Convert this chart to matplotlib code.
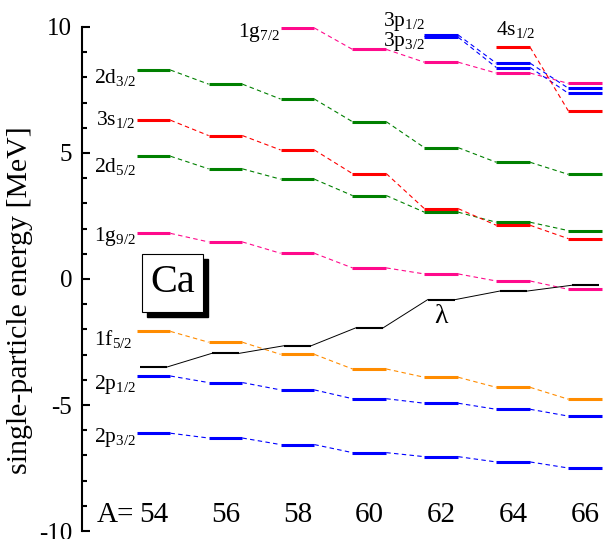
import matplotlib
matplotlib.use("Agg")
import matplotlib.pyplot as plt
from matplotlib.patches import Rectangle

plt.rcParams["font.family"] = ["Liberation Serif", "DejaVu Serif"]
plt.rcParams["mathtext.fontset"] = "custom"
plt.rcParams["mathtext.rm"] = "Liberation Serif"
plt.rcParams["mathtext.it"] = "Liberation Serif:italic"

####################################################################
# DATA
####################################################################

A = [54, 56, 58, 60, 62, 64, 66]

e_2p32 = [-6.12, -6.31, -6.57, -6.89, -7.05, -7.26, -7.50]
e_2p12 = [-3.85, -4.11, -4.40, -4.75, -4.93, -5.17, -5.44]
e_1f52 = [-2.08, -2.51, -2.99, -3.57, -3.90, -4.30, -4.77]
e_1g92 = [1.81, 1.47, 1.02, 0.44, 0.20, -0.08, -0.41]
e_2d52 = [4.87, 4.37, 3.96, 3.31, 2.65, 2.25, 1.92]
e_3s12 = [6.30, 5.69, 5.12, 4.18, 2.79, 2.13, 1.60]
e_2d32 = [8.29, 7.73, 7.14, 6.24, 5.21, 4.63, 4.15]

A_1g72 = [58, 60, 62, 64, 66]
e_1g72 = [9.96, 9.11, 8.60, 8.17, 7.76]

A_3p = [62, 64, 66]
e_3p12 = [9.68, 8.56, 7.57]
e_3p32 = [9.59, 8.39, 7.37]

A_4s = [64, 66]
e_4s12 = [9.19, 6.67]

lam = [-3.49, -2.95, -2.65, -1.94, -0.82, -0.48, -0.25]

PINK = "#ff0a8c"
RED = "#ff0000"
GREEN = "#008000"
ORANGE = "#ff8c00"
BLUE = "#0000ff"

# (A values, energies, colour, label, label A, label y, label alignment)
orbitals = [
    (A, e_2p32, BLUE, r"2p$_{3/2}$", 53.5, -6.27, "right"),
    (A, e_2p12, BLUE, r"2p$_{1/2}$", 53.5, -4.17, "right"),
    (A, e_1f52, ORANGE, r"1f$_{5/2}$", 53.4, -2.38, "right"),
    (A, e_1g92, PINK, r"1g$_{9/2}$", 53.5, 1.70, "right"),
    (A, e_2d52, GREEN, r"2d$_{5/2}$", 53.5, 4.48, "right"),
    (A, e_3s12, RED, r"3s$_{1/2}$", 53.5, 6.31, "right"),
    (A, e_2d32, GREEN, r"2d$_{3/2}$", 53.5, 7.98, "right"),
    (A_1g72, e_1g72, PINK, r"1g$_{7/2}$", 57.52, 9.76, "right"),
    (A_3p, e_3p12, BLUE, r"3p$_{1/2}$", 61.55, 10.2, "right"),
    (A_3p, e_3p32, BLUE, r"3p$_{3/2}$", 61.55, 9.44, "right"),
    (A_4s, e_4s12, RED, r"4s$_{1/2}$", 63.52, 9.88, "left"),
]

HALF = 0.47
LAM_HALF = 0.38

####################################################################
# FIGURE
####################################################################

fig = plt.figure(figsize=(6.05, 5.39), dpi=100)
ax = fig.add_axes([0.1355, 0.0148, 0.8645, 0.9352])

ax.set_xlim(52.01, 66.55)
ax.set_ylim(-10, 10)

for xs, es, color, label, lx, ly, ha in orbitals:

    for i, (a, e) in enumerate(zip(xs, es)):
        ax.plot([a - HALF, a + HALF], [e, e], color=color, lw=2.2,
                solid_capstyle="butt")
        if i + 1 < len(xs):
            ax.plot([a + HALF, xs[i + 1] - HALF], [e, es[i + 1]],
                    color=color, lw=0.8, linestyle=(0, (4, 3)))

    ax.text(lx, ly, label, color="black", fontsize=15.5, ha=ha, va="center")

# Fermi level
for i, (a, e) in enumerate(zip(A, lam)):
    ax.plot([a - LAM_HALF, a + LAM_HALF], [e, e], color="black", lw=1.5,
            solid_capstyle="butt")
    if i + 1 < len(A):
        ax.plot([a + LAM_HALF, A[i + 1] - LAM_HALF], [e, lam[i + 1]],
                color="black", lw=0.7)

ax.text(62, -1.5, "λ", fontsize=20, ha="center", va="center")

# mass numbers along the bottom
for a in A:
    ax.text(a, -9.37, str(a), fontsize=21, ha="center", va="center")
ax.text(52.42, -9.37, "A=", fontsize=21, ha="left", va="center")

####################################################################
# AXES
####################################################################

for side in ["top", "right", "bottom"]:
    ax.spines[side].set_visible(False)
ax.spines["left"].set_linewidth(1.5)

ax.set_xticks([])
ax.set_yticks([-10, -5, 0, 5, 10])
ax.set_yticks(range(-10, 11), minor=True)
ax.set_yticklabels(["-10", "-5", "0", "5", "10"])
ax.tick_params(axis="y", which="major", direction="in", length=6,
               width=1.5, labelsize=18, pad=7)
ax.tick_params(axis="y", which="minor", direction="in", length=3.6,
               width=1.5)

fig.text(20 / 605, 0.443, "single-particle energy [MeV]", fontsize=21.5,
         rotation=90, ha="center", va="center")

####################################################################
# Ca BOX
####################################################################

W, H = 605.0, 539.0
bx, by, bw, bh = 142, 312, 61, 58
fig.patches.append(Rectangle(((bx + 5) / W, (H - by - 5) / H), bw / W, bh / H,
                             transform=fig.transFigure, facecolor="black",
                             edgecolor="black", zorder=5))
fig.patches.append(Rectangle((bx / W, (H - by) / H), bw / W, bh / H,
                             transform=fig.transFigure, facecolor="white",
                             edgecolor="black", lw=0.8, zorder=6))
fig.text((bx + bw / 2) / W, (H - by + bh / 2) / H, "Ca", fontsize=29,
         ha="center", va="center", zorder=7)

fig.savefig("out.png", dpi=100)
plt.close(fig)
